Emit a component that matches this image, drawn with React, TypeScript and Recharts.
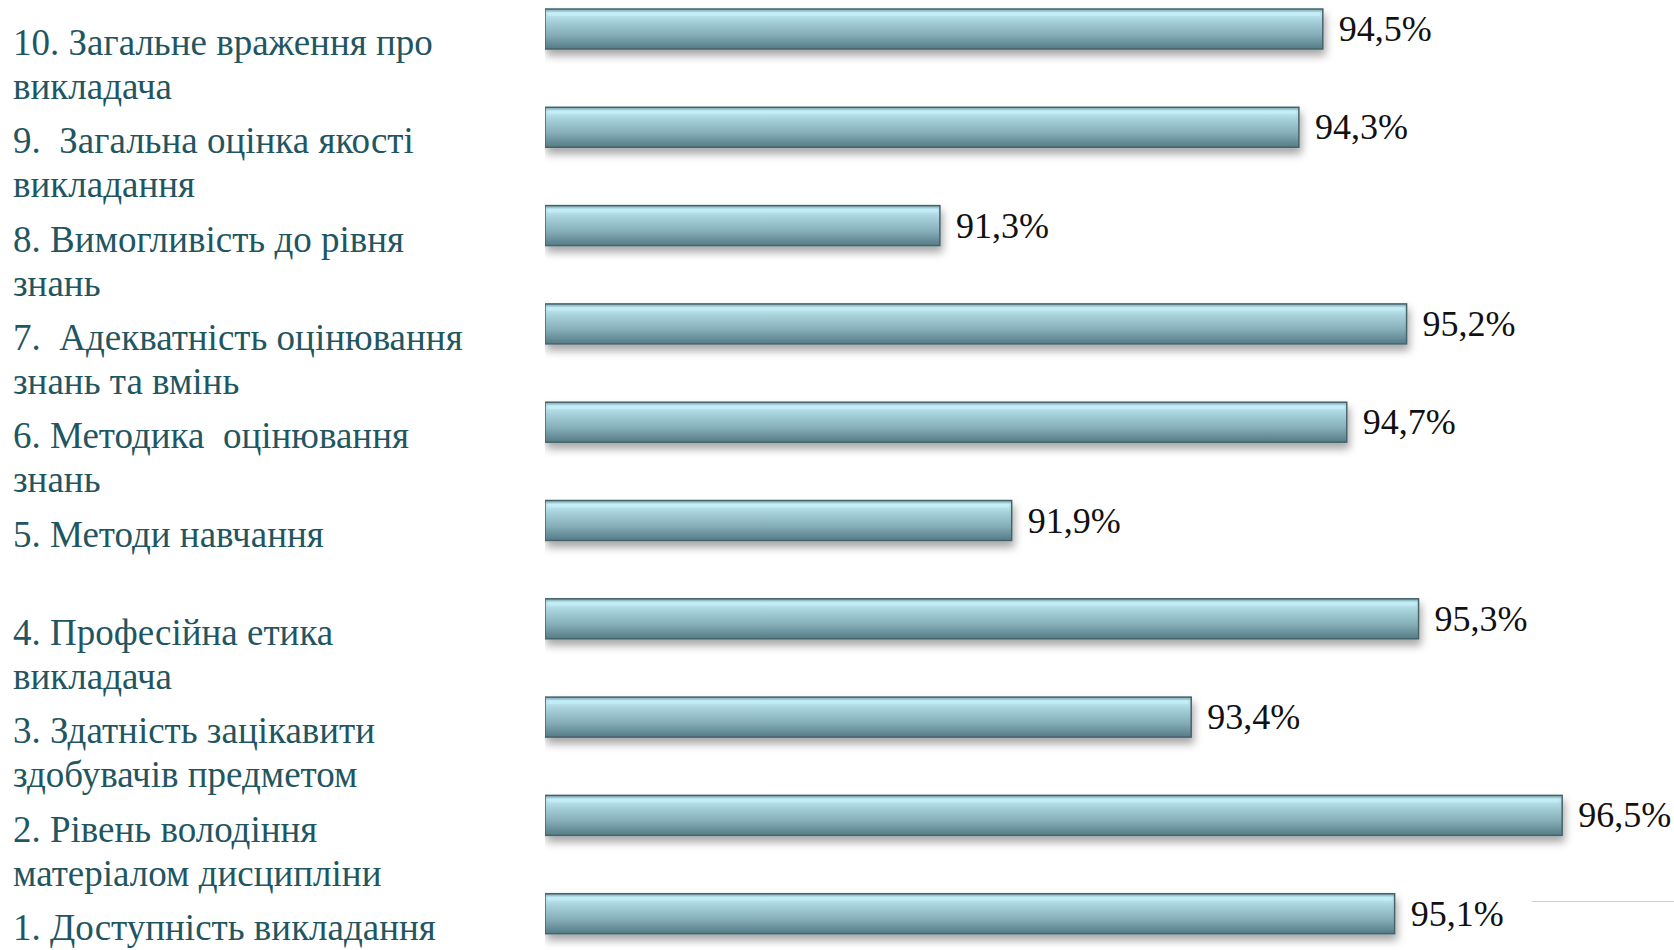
import { Bar, BarChart, LabelList, XAxis, YAxis } from "recharts";

// top to bottom, as on the slide
const criteria = [
  ["10. Загальне враження про", "викладача"],
  ["9.  Загальна оцінка якості", "викладання"],
  ["8. Вимогливість до рівня", "знань"],
  ["7.  Адекватність оцінювання", "знань та вмінь"],
  ["6. Методика  оцінювання", "знань"],
  ["5. Методи навчання"],
  ["4. Професійна етика", "викладача"],
  ["3. Здатність зацікавити", "здобувачів предметом"],
  ["2. Рівень володіння", "матеріалом дисципліни"],
  ["1. Доступність викладання"],
];
const scores = [94.5, 94.3, 91.3, 95.2, 94.7, 91.9, 95.3, 93.4, 96.5, 95.1];
const axisDomain = [88, 97];

const data = criteria.map((lines, i) => ({ name: lines.join("|"), value: scores[i] }));

const serif = '"Liberation Serif", "Times New Roman", serif';

function CriterionTick({ y, payload }: any) {
  const lines = String(payload.value).split("|");
  return (
    <text x={13} y={y + 26} fill="#1f5661" fontSize={37} fontFamily={serif} style={{ whiteSpace: "pre" }}>
      {lines.map((l, i) => (
        <tspan key={i} x={13} dy={i === 0 ? 0 : 44}>
          {l}
        </tspan>
      ))}
    </text>
  );
}

function GlassBar({ x, y, width, height }: any) {
  if (!width) return null;
  return (
    <g filter="url(#barShadow)">
      <rect x={x} y={y} width={width} height={height} fill="url(#barFill)" stroke="#46636b" strokeWidth={1.5} />
      <rect x={x + 3} y={y + 3} width={Math.max(width - 6, 0)} height={4} fill="#c9f0f8" opacity={0.55} />
    </g>
  );
}

function ValueLabel({ x, y, width, height, value }: any) {
  return (
    <text x={x + width + 16} y={y + height / 2 + 12} fontSize={36} fontFamily={serif} fill="#111">
      {String(value).replace(".", ",")}%
    </text>
  );
}

export default function App() {
  return (
    <div style={{ position: "absolute", left: 0, top: 0, width: 1674, height: 950, overflow: "hidden", background: "#fff" }}>
      <div style={{ position: "absolute", left: 0, top: -20 }}>
        <BarChart
          width={1674}
          height={984}
          data={data}
          layout="vertical"
          margin={{ top: 0, right: 52, bottom: 1, left: 0 }}
        >
          <defs>
            <linearGradient id="barFill" x1="0" y1="0" x2="0" y2="1">
              <stop offset="0" stopColor="#7aa5af" />
              <stop offset="0.1" stopColor="#c0eaf3" />
              <stop offset="0.3" stopColor="#a6d0da" />
              <stop offset="0.65" stopColor="#84adb7" />
              <stop offset="1" stopColor="#557b85" />
            </linearGradient>
            <filter id="barShadow" x="-5%" y="-30%" width="110%" height="190%">
              <feDropShadow dx="2" dy="6" stdDeviation="4" floodColor="#000" floodOpacity="0.35" />
            </filter>
          </defs>
          <XAxis type="number" domain={axisDomain} hide allowDataOverflow />
          <YAxis
            type="category"
            dataKey="name"
            width={545}
            axisLine={false}
            tickLine={false}
            tick={<CriterionTick />}
            interval={0}
          />
          <Bar dataKey="value" barSize={40} shape={<GlassBar />} isAnimationActive={false}>
            <LabelList dataKey="value" content={<ValueLabel />} />
          </Bar>
        </BarChart>
      </div>
      <div style={{ position: "absolute", left: 1532, top: 901, width: 142, height: 1, background: "#cfcfcf" }} />
    </div>
  );
}
